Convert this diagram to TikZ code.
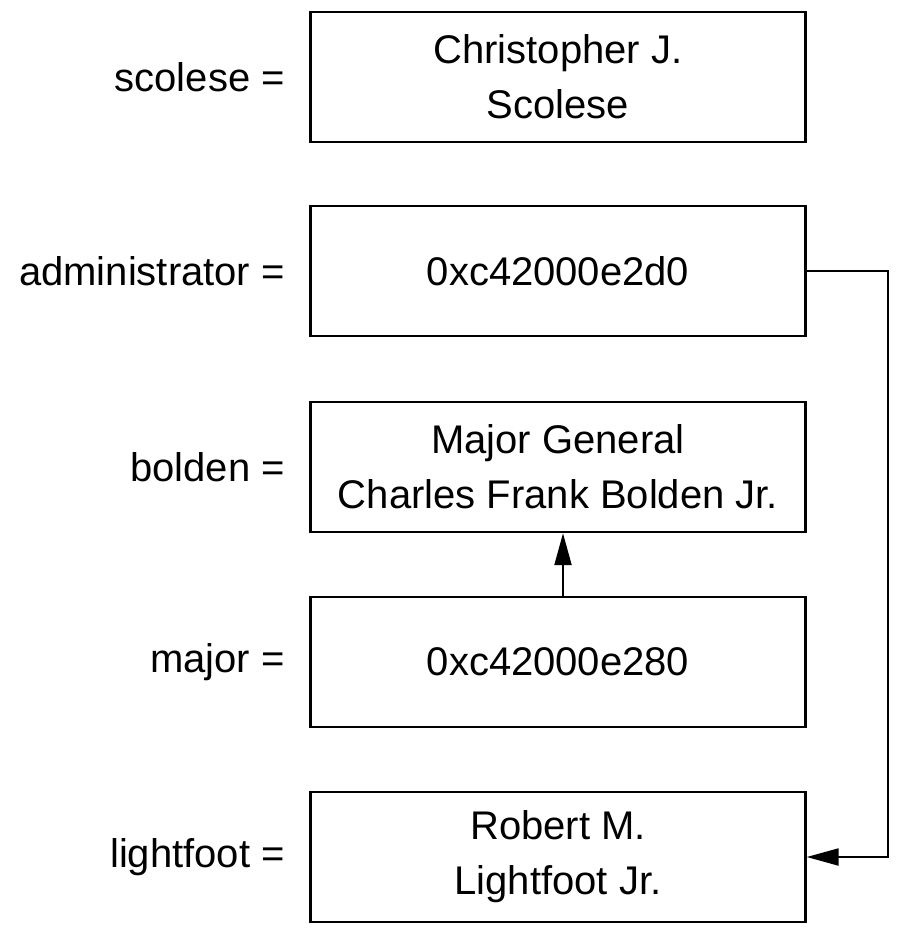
\documentclass[tikz,border=0pt]{standalone}
\usepackage{fontspec}
\setmainfont{Liberation Sans}
\usetikzlibrary{arrows.meta}
\begin{document}
\begin{tikzpicture}[x=1pt,y=-1pt,
  font=\fontsize{40}{55}\selectfont,
  valbox/.style={draw,line width=2.4pt,minimum width=495pt,minimum height=130pt,align=center,inner sep=0pt},
  lbl/.style={anchor=east,inner sep=0pt},
  link/.style={line width=2.2pt,-{Triangle[length=32pt,width=17pt]}}]
\useasboundingbox (0,0) rectangle (912,932);
\node[valbox] (b1) at (558,77) {Christopher J.\\Scolese};
\node[valbox] (b2) at (558,271) {0xc42000e2d0};
\node[valbox] (b3) at (558,467) {Major General\\Charles Frank Bolden Jr.};
\node[valbox] (b4) at (558,662) {0xc42000e280};
\node[valbox] (b5) at (558,857) {Robert M.\\Lightfoot Jr.};
\node[lbl] (l1) at (285,77) {scolese =};
\node[lbl] (l2) at (285,271) {administrator =};
\node[lbl] (l3) at (285,467) {bolden =};
\node[lbl] (l4) at (285,662) {major =};
\node[lbl] (l5) at (285,857) {lightfoot =};
\coordinate (c1) at (888,271);
\coordinate (c2) at (888,857);
\draw[link] (b2.east) -- (c1) -- (c2) -- (b5.east);
\draw[link] ([xshift=5pt]b4.north) -- ([xshift=5pt]b3.south);
\end{tikzpicture}
\end{document}
